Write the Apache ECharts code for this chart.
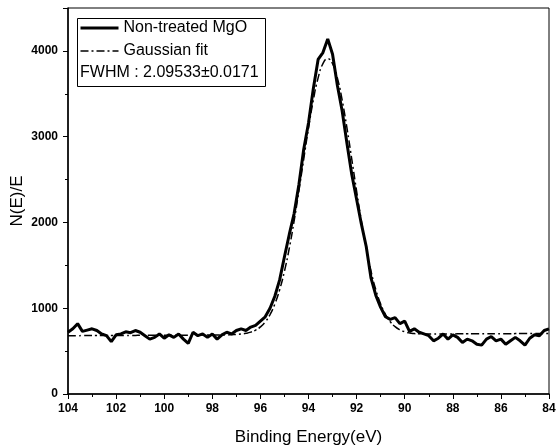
<!DOCTYPE html>
<html lang="en">
<head>
    <meta charset="UTF-8">
    <title>Non-treated MgO - Mg 2p</title>
    <script src="https://cdn.jsdelivr.net/npm/echarts@6/dist/echarts.min.js"></script>
    <style>
        html, body { margin: 0; padding: 0; background: #fff; }
        #chart { width: 559px; height: 448px; }
    </style>
</head>
<body>
    <div id="chart"></div>
    <script>
        // binding energy grid (eV), 0.2 eV steps from 104 down to 84
        const energies = [
            104.0, 103.8, 103.6, 103.4, 103.2, 103.0, 102.8, 102.6, 102.4, 102.2,
            102.0, 101.8, 101.6, 101.4, 101.2, 101.0, 100.8, 100.6, 100.4, 100.2,
            100.0, 99.8, 99.6, 99.4, 99.2, 99.0, 98.8, 98.6, 98.4, 98.2,
            98.0, 97.8, 97.6, 97.4, 97.2, 97.0, 96.8, 96.6, 96.4, 96.2,
            96.0, 95.8, 95.6, 95.4, 95.2, 95.0, 94.8, 94.6, 94.4, 94.2,
            94.0, 93.8, 93.6, 93.4, 93.2, 93.0, 92.8, 92.6, 92.4, 92.2,
            92.0, 91.8, 91.6, 91.4, 91.2, 91.0, 90.8, 90.6, 90.4, 90.2,
            90.0, 89.8, 89.6, 89.4, 89.2, 89.0, 88.8, 88.6, 88.4, 88.2,
            88.0, 87.8, 87.6, 87.4, 87.2, 87.0, 86.8, 86.6, 86.4, 86.2,
            86.0, 85.8, 85.6, 85.4, 85.2, 85.0, 84.8, 84.6, 84.4, 84.2,
            84.0
        ];

        const measured = [
            720, 760, 820, 730, 745, 760, 740, 700, 680, 610,
            690, 700, 725, 715, 740, 720, 680, 640, 660, 700,
            650, 690, 660, 700, 640, 590, 720, 680, 700, 660,
            700, 640, 690, 720, 700, 740, 760, 740, 780, 800,
            850, 900, 1000, 1140, 1330, 1600, 1860, 2100, 2440, 2850,
            3160, 3560, 3900, 3980, 4140, 3960, 3600, 3300, 2920, 2560,
            2270, 1980, 1720, 1350, 1150, 1010, 900, 870, 890, 820,
            850, 730, 760, 720, 700, 680, 620, 650, 700, 640,
            690, 660, 600, 640, 620, 580, 570, 640, 670, 620,
            640, 580, 620, 660, 620, 570, 650, 690, 680, 740,
            760
        ];

        // gaussian fit curve
        const gaussFit = [
            680, 680, 680, 681, 681, 681, 681, 682, 682, 682,
            682, 683, 683, 683, 683, 684, 684, 684, 684, 685,
            685, 685, 685, 686, 686, 686, 686, 687, 687, 687,
            687, 688, 688, 688, 692, 695, 699, 707, 721, 744,
            782, 840, 926, 1049, 1215, 1431, 1698, 2014, 2366, 2736,
            3099, 3425, 3685, 3852, 3910, 3852, 3685, 3425, 3099, 2736,
            2366, 2014, 1698, 1431, 1215, 1050, 928, 842, 785, 748,
            726, 712, 705, 701, 699, 699, 699, 700, 700, 700,
            700, 701, 701, 701, 701, 702, 702, 702, 702, 703,
            703, 703, 703, 704, 704, 704, 704, 705, 705, 705,
            705
        ];

        const seriesNames = ['Non-treated MgO', 'Gaussian fit'];
        const fwhmText = 'FWHM : 2.09533\u00B10.0171';

        const pair = (ys) => energies.map((e, i) => [e, ys[i]]);

        const chart = echarts.init(document.getElementById('chart'));
        const tickFont = { fontFamily: 'Liberation Sans', fontWeight: 'bold', fontSize: 12, color: '#000' };

        chart.setOption({
            animation: false,
            backgroundColor: '#fff',
            grid: {
                left: 68, right: 10, top: 8, bottom: 54,
                outerBoundsMode: 'none',
                show: true, borderColor: '#000', borderWidth: 1
            },
            legend: {
                orient: 'vertical',
                left: 74, top: 15,
                itemWidth: 38, itemHeight: 12, itemGap: 7,
                data: seriesNames,
                itemStyle: { opacity: 0 },       // hide the circle, keep the line sample
                lineStyle: { width: 'inherit' },
                textStyle: { fontFamily: 'Liberation Sans', fontSize: 16, color: '#000' }
            },
            xAxis: {
                type: 'value',
                min: 84, max: 104, interval: 2,
                inverse: true,
                name: 'Binding Energy(eV)',
                nameLocation: 'middle',
                nameGap: 35,
                nameTextStyle: { fontFamily: 'Liberation Sans', fontSize: 17, color: '#000' },
                axisLine: { lineStyle: { color: '#000', width: 1.5 } },
                axisTick: { length: 5, lineStyle: { color: '#000' } },
                minorTick: { show: true, splitNumber: 2, length: 3, lineStyle: { color: '#000' } },
                axisLabel: Object.assign({ margin: 9 }, tickFont),
                splitLine: { show: false }
            },
            yAxis: {
                type: 'value',
                min: 0, max: 4500, interval: 1000,
                name: 'N(E)/E',
                nameLocation: 'middle',
                nameGap: 42,
                nameMoveOverlap: false,
                nameTextStyle: { fontFamily: 'Liberation Sans', fontSize: 17, color: '#000' },
                axisLine: { show: true, lineStyle: { color: '#000', width: 1.5 } },
                axisTick: { show: true, length: 5, lineStyle: { color: '#000' } },
                minorTick: { show: true, splitNumber: 2, length: 3, lineStyle: { color: '#000' } },
                axisLabel: Object.assign({
                    margin: 10, showMaxLabel: false,
                    formatter: (v) => String(v)
                }, tickFont),
                splitLine: { show: false }
            },
            graphic: [
                {
                    type: 'rect',
                    shape: { x: 77.5, y: 18.5, width: 188, height: 68 },
                    style: { fill: null, stroke: '#000', lineWidth: 1 }
                },
                {
                    type: 'text',
                    left: 80, top: 65,
                    style: {
                        text: fwhmText,
                        font: '16px "Liberation Sans"',
                        fill: '#000'
                    }
                }
            ],
            series: [
                {
                    name: seriesNames[0],
                    type: 'line',
                    data: pair(measured),
                    showSymbol: false,
                    symbol: 'none',
                    lineStyle: { color: '#000', width: 3 },
                    itemStyle: { color: '#000' },
                    z: 3
                },
                {
                    name: seriesNames[1],
                    type: 'line',
                    data: pair(gaussFit),
                    smooth: true,
                    showSymbol: false,
                    symbol: 'none',
                    lineStyle: { color: '#000', width: 1.5, type: [8, 3, 2, 3] },
                    itemStyle: { color: '#000' },
                    z: 2
                }
            ]
        });
    </script>
</body>
</html>
